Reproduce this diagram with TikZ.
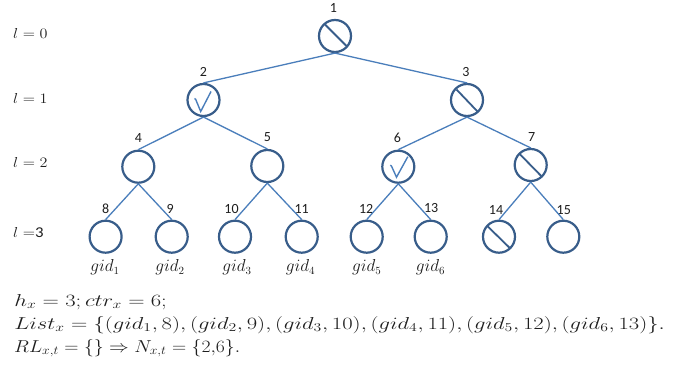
\documentclass[tikz,border=0pt]{standalone}
\usepackage{fontspec}
\newfontfamily\numfont{Carlito}
\usetikzlibrary{calc}
\definecolor{ringblue}{HTML}{385D8A}
\definecolor{edgeblue}{HTML}{4A7EBB}
\definecolor{inkgray}{HTML}{1E1E1E}

\begin{document}
\begin{tikzpicture}[x=1pt,y=-1pt,
  ring/.style={circle,draw=ringblue,line width=2.2pt,minimum size=32pt,inner sep=0pt},
  num/.style={font=\numfont\fontsize{14}{14}\selectfont,text=inkgray,inner sep=0pt},
  edge/.style={draw=edgeblue,line width=1.3pt},
  strike/.style={draw=ringblue,line width=1.8pt},
  tick/.style={draw=edgeblue,line width=1.4pt,line join=miter},
  lvl/.style={font=\fontsize{15}{16}\selectfont,text=inkgray,anchor=base west,inner sep=0pt,
              xscale=1.12,transform shape},
  gid/.style={font=\fontsize{16}{16}\selectfont,text=inkgray,anchor=base,inner sep=0pt},
  formula/.style={font=\fontsize{18}{20}\selectfont,text=inkgray,anchor=base west,inner sep=0pt,
                  transform shape}
]
\fill[white] (0,0) rectangle (689,369);
\useasboundingbox (0,0) rectangle (689,369);

% level captions
\node[lvl] (l0) at (13,39)    {$l = 0$};
\node[lvl] (l1) at (13,103.5) {$l = 1$};
\node[lvl] (l2) at (13,167.5) {$l = 2$};
\node[lvl] (l3) at (13,237)   {$l =${\numfont 3}};

% tree nodes
\node[ring] (n1) at (335,36) {};
\node[ring] (n2) at (203.5,100) {};
\node[ring] (n3) at (467,100) {};
\node[ring] (n4) at (138.3,166.7) {};
\node[ring] (n5) at (267.3,166) {};
\node[ring] (n6) at (398.3,166.7) {};
\node[ring] (n7) at (530.7,165) {};
\node[ring] (n8)  at (105.6,236.7) {};
\node[ring] (n9)  at (171.7,236.7) {};
\node[ring] (n10) at (235,236.7) {};
\node[ring] (n11) at (301.7,236.7) {};
\node[ring] (n12) at (366.7,236.7) {};
\node[ring] (n13) at (430.7,236.7) {};
\node[ring] (n14) at (499,236.7) {};
\node[ring] (n15) at (563.3,236.7) {};

% node numbers
\node[num] (t1)  at ($(n1)+(-1.5,-28.5)$) {1};
\node[num] (t2)  at ($(n2)+(0,-28.3)$) {2};
\node[num] (t3)  at ($(n3)+(-1,-28.3)$) {3};
\node[num] (t4)  at ($(n4)+(0,-28.5)$) {4};
\node[num] (t5)  at ($(n5)+(0,-28.5)$) {5};
\node[num] (t6)  at ($(n6)+(-1,-28.5)$) {6};
\node[num] (t7)  at ($(n7)+(1,-28)$) {7};
\node[num] (t8)  at ($(n8)+(0,-27.7)$) {8};
\node[num] (t9)  at ($(n9)+(-1.5,-27.7)$) {9};
\node[num] (t10) at ($(n10)+(-3.5,-27.7)$) {10};
\node[num] (t11) at ($(n11)+(0,-27.7)$) {11};
\node[num] (t12) at ($(n12)+(-0.5,-27.7)$) {12};
\node[num] (t13) at ($(n13)+(0.5,-28.5)$) {13};
\node[num] (t14) at ($(n14)+(-3,-27)$) {14};
\node[num] (t15) at ($(n15)+(0.5,-27)$) {15};

% connectors
\draw[edge] (n1.south) -- (n2.north);
\draw[edge] (n1.south) -- (n3.north);
\draw[edge] (n2.south) -- (n4.north);
\draw[edge] (n2.south) -- (n5.north);
\draw[edge] (n3.south) -- (n6.north);
\draw[edge] (n3.south) -- (n7.north);
\draw[edge] (n4.south) -- (n8.north);
\draw[edge] (n4.south) -- (n9.north);
\draw[edge] (n5.south) -- (n10.north);
\draw[edge] (n5.south) -- (n11.north);
\draw[edge] (n6.south) -- (n12.north);
\draw[edge] (n6.south) -- (n13.north);
\draw[edge] (n7.south) -- (n14.north);
\draw[edge] (n7.south) -- (n15.north);

% pruned nodes
\draw[strike] ($(n1)+(-10.5,-12)$) -- ($(n1)+(11.5,10)$);
\draw[strike] ($(n3)+(-10.5,-10.5)$) -- ($(n3)+(10.5,11.5)$);
\draw[strike] ($(n7)+(-11.5,-11.5)$) -- ($(n7)+(11,11.5)$);
\draw[strike] ($(n14)+(-11.5,-10.5)$) -- ($(n14)+(11.5,12)$);

% selected nodes
\draw[tick] ($(n2)+(-9,-1.5)$) -- ($(n2)+(-7.8,-0.6)$) -- ($(n2)+(-2.8,11.5)$) -- ($(n2)+(7.5,-8.5)$);
\draw[tick] ($(n6)+(-8,-1.5)$) -- ($(n6)+(-6.8,-0.6)$) -- ($(n6)+(-1.8,10.5)$) -- ($(n6)+(9.5,-10)$);

% leaf group ids
\node[gid] (g1) at (105,271.7) {$gid_1$};
\node[gid] (g2) at (170,271.7) {$gid_2$};
\node[gid] (g3) at (237,271.7) {$gid_3$};
\node[gid] (g4) at (300.5,271.7) {$gid_4$};
\node[gid] (g5) at (366.7,271.7) {$gid_5$};
\node[gid] (g6) at (430.5,271.7) {$gid_6$};

% summary
\node[formula,xscale=1.31] (s1) at (14,306) {$h_x = 3; ctr_x = 6;$};
\node[formula,xscale=1.31] (s2) at (14,329) {$List_x = \{(gid_1, 8), (gid_2, 9), (gid_3, 10), (gid_4, 11), (gid_5, 12), (gid_6, 13)\}.$};
\node[formula,xscale=1.14] (s3) at (14,352) {$RL_{x,t} = \{\} \Rightarrow N_{x,t} = \{2{,}6\}.$};
\end{tikzpicture}
\end{document}
